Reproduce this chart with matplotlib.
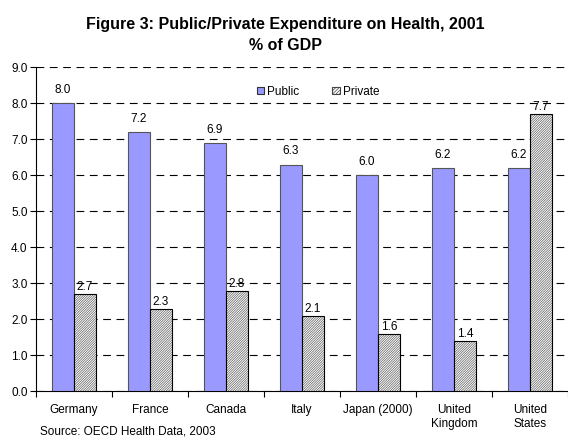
import matplotlib
matplotlib.use("Agg")
import matplotlib.pyplot as plt
import numpy as np
from matplotlib.patches import Patch

plt.rcParams['font.family'] = ['Liberation Sans', 'DejaVu Sans']
plt.rcParams['hatch.linewidth'] = 0.5

categories = ["Germany", "France", "Canada", "Italy", "Japan (2000)",
              "United\nKingdom", "United\nStates"]
public = [8.0, 7.2, 6.9, 6.3, 6.0, 6.2, 6.2]
private = [2.7, 2.3, 2.8, 2.1, 1.6, 1.4, 7.7]
yticks = [0.0, 1.0, 2.0, 3.0, 4.0, 5.0, 6.0, 7.0, 8.0, 9.0]

fig = plt.figure(figsize=(5.68, 4.38), dpi=100)
ax = fig.add_axes([36/568, 1-391.3/438, 1-36/568, (391.3-67.3)/438])

x = np.arange(len(categories))
w = 0.29
ax.bar(x - w/2, public, w, color='#9999FF', edgecolor='#555555', linewidth=0.8,
       label='Public', zorder=3)
# hatched fill (gray hatch lines), then black outline on top
ax.bar(x + w/2, private, w, color='white', edgecolor='#606060', linewidth=0,
       hatch='//////////////', zorder=3)
ax.bar(x + w/2, private, w, color='none', edgecolor='black', linewidth=0.8,
       zorder=3)
# legend proxy
pub_h = Patch(facecolor='#9999FF', edgecolor='#333333', linewidth=0.8, label='Public')
pri_h = Patch(facecolor='white', edgecolor='#444444', linewidth=0.8, hatch='//////////',
              label='Private')

for xi, v in zip(x, public):
    ax.text(xi - w/2, v + 0.2, f"{v:.1f}", ha='center', va='bottom', fontsize=8.5, zorder=4)
for xi, v in zip(x, private):
    ax.text(xi + w/2, v + 0.02, f"{v:.1f}", ha='center', va='bottom', fontsize=8.5, zorder=4)

ax.set_xlim(-0.5, len(categories) - 0.5)
ax.set_ylim(0, 9)
ax.set_yticks(yticks)
ax.set_yticklabels([f"{t:.1f}" for t in yticks], fontsize=8.5)
ax.yaxis.grid(True, linestyle=(0, (7, 5)), color='black', linewidth=0.8, zorder=0)
ax.set_axisbelow(True)

ax.set_xticks(np.arange(len(categories) + 1) - 0.5, minor=False)
ax.set_xticklabels([])
ax.set_xticks(x, minor=True)
ax.set_xticklabels(categories, minor=True, fontsize=8.5)
ax.tick_params(axis='x', which='minor', length=0, pad=9)
ax.tick_params(axis='x', which='major', length=4, direction='out')
ax.tick_params(axis='y', length=4, direction='out', pad=2)

for s in ['top', 'right']:
    ax.spines[s].set_visible(False)
ax.spines['left'].set_linewidth(0.8)
ax.spines['bottom'].set_linewidth(0.8)

leg = ax.legend(handles=[pub_h, pri_h], loc='center', bbox_to_anchor=(318/568, 1-91.7/438),
                bbox_transform=fig.transFigure, ncol=2, frameon=False,
                fontsize=8.5, handlelength=0.65, handleheight=0.65,
                handletextpad=0.25, columnspacing=2.8)

fig.text(285/568, 1-24/438, "Figure 3: Public/Private Expenditure on Health, 2001",
         ha='center', va='center', fontsize=11.5, fontweight='bold')
fig.text(285/568, 1-46/438, "% of GDP",
         ha='center', va='center', fontsize=11.5, fontweight='bold')
fig.text(40/568, 1-432/438, "Source: OECD Health Data, 2003",
         ha='left', va='center', fontsize=8.5)

fig.savefig("out.png", dpi=100)
